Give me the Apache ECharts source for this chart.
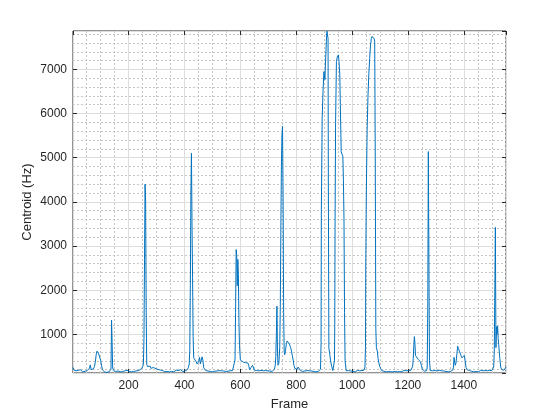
<!DOCTYPE html>
<html>
<head>
<meta charset="utf-8">
<script src="https://cdn.jsdelivr.net/npm/echarts@6/dist/echarts.min.js"></script>
<style>html,body{margin:0;padding:0;background:#fff}#c{width:560px;height:420px}</style>
</head>
<body>
<div id="c"></div>
<script>
const xTitle = 'Frame';
const yTitle = 'Centroid (Hz)';
const xRange = [1, 1551];
const yRange = [125, 7870];
const xMajorStep = 200, xMinorStep = 50;
const yMajorStep = 1000, yMinorStep = 200;
// [frame, centroid Hz]
const centroidPoints = [
[1,250],[4,195],[8,160],[12,175],[16,150],[20,185],[24,160],[28,200],[32,170],[36,150],[40,190],[44,165],[48,205],[52,180],[56,200],[60,235],[63,310],[66,200],[70,170],[74,220],[78,270],[81,380],[84,540],[87,620],[89,580],[91,630],[93,560],[95,600],[97,520],[100,410],[103,300],[106,200],[110,170],[114,150],[118,128],[122,140],[126,165],[130,150],[134,145],[137,210],[139,1320],[141,820],[143,240],[146,180],[150,210],[154,160],[158,195],[162,170],[166,200],[170,150],[174,180],[178,160],[182,200],[186,170],[190,150],[194,190],[198,170],[202,160],[206,185],[210,150],[214,175],[218,160],[222,190],[226,170],[230,150],[234,180],[238,165],[242,200],[246,215],[250,260],[253,320],[255,900],[257,2700],[259,4400],[261,4000],[263,1500],[265,320],[268,270],[271,300],[274,240],[277,280],[280,230],[283,260],[286,210],[289,250],[292,205],[295,270],[298,220],[302,185],[306,205],[310,170],[314,190],[318,160],[322,180],[326,170],[330,150],[334,180],[338,160],[342,170],[346,150],[350,190],[354,160],[358,180],[362,150],[366,170],[370,190],[374,160],[378,180],[382,150],[386,200],[390,170],[394,160],[398,180],[402,170],[406,190],[410,200],[414,250],[417,330],[419,650],[421,2100],[423,4200],[425,5100],[427,3500],[429,2280],[431,950],[433,470],[436,430],[439,460],[442,380],[445,330],[448,290],[451,380],[454,480],[457,330],[460,300],[463,490],[466,420],[469,240],[472,200],[476,180],[480,200],[484,170],[488,190],[492,160],[496,175],[500,150],[504,180],[508,165],[512,190],[516,170],[520,150],[524,180],[528,160],[532,175],[536,150],[540,170],[544,185],[548,160],[552,180],[556,165],[560,150],[564,175],[568,160],[572,180],[576,175],[579,220],[581,420],[583,1500],[585,2920],[587,2800],[589,2100],[591,2700],[593,2350],[595,1290],[597,750],[600,420],[603,380],[607,395],[611,370],[615,385],[619,360],[623,390],[627,350],[630,300],[633,200],[636,185],[640,240],[644,300],[647,280],[650,190],[654,165],[658,180],[662,150],[666,175],[670,160],[674,185],[678,155],[682,175],[686,150],[690,180],[694,160],[698,175],[702,150],[706,170],[710,185],[714,160],[718,180],[722,210],[725,300],[727,500],[729,1000],[731,1640],[733,600],[735,300],[738,350],[741,700],[743,1600],[745,3300],[747,4800],[749,5500],[751,5710],[753,4200],[755,1500],[757,600],[759,540],[762,650],[765,800],[768,850],[771,820],[774,840],[777,760],[780,700],[783,620],[786,520],[789,420],[792,300],[795,230],[799,250],[803,210],[807,260],[811,220],[815,180],[819,200],[823,160],[827,185],[831,170],[835,150],[839,180],[843,160],[847,175],[851,150],[855,170],[859,185],[863,160],[867,175],[871,150],[875,170],[879,160],[883,180],[887,210],[889,800],[890,3800],[893,5900],[896,6500],[899,6950],[901,6850],[903,6770],[905,7200],[908,7634],[910,7867],[912,7867],[914,7700],[915,4500],[917,690],[920,560],[923,400],[927,280],[931,180],[935,160],[937,400],[938,1200],[939,3400],[941,5800],[944,7180],[947,7280],[951,7330],[953,7200],[956,6880],[958,6200],[961,5140],[964,5080],[967,5030],[969,4500],[971,3630],[973,1500],[975,400],[979,175],[983,160],[987,180],[991,150],[995,170],[999,185],[1003,160],[1007,175],[1011,150],[1015,170],[1019,185],[1023,160],[1027,175],[1031,150],[1035,180],[1039,165],[1043,190],[1046,260],[1048,700],[1049,2500],[1051,4200],[1054,5670],[1057,6400],[1060,6900],[1063,7250],[1066,7550],[1069,7700],[1071,7747],[1074,7760],[1077,7740],[1079,7700],[1081,7634],[1083,5000],[1085,1140],[1087,700],[1089,720],[1091,600],[1093,450],[1096,350],[1099,280],[1102,230],[1106,180],[1110,200],[1114,165],[1118,185],[1122,150],[1126,175],[1130,160],[1134,190],[1138,155],[1142,175],[1146,150],[1150,180],[1154,160],[1158,175],[1162,150],[1166,185],[1170,160],[1174,175],[1178,150],[1182,170],[1186,185],[1190,160],[1194,175],[1198,150],[1202,180],[1206,160],[1210,185],[1214,200],[1217,280],[1219,450],[1221,750],[1223,950],[1225,800],[1227,520],[1230,560],[1233,500],[1237,430],[1241,400],[1245,380],[1248,300],[1251,220],[1255,180],[1259,165],[1263,185],[1267,180],[1269,260],[1271,1600],[1273,5140],[1275,2800],[1277,400],[1280,180],[1284,160],[1288,175],[1292,150],[1296,180],[1300,160],[1304,175],[1308,150],[1312,185],[1316,160],[1320,175],[1324,150],[1328,170],[1332,185],[1336,160],[1340,175],[1344,150],[1348,180],[1352,160],[1356,175],[1360,190],[1363,260],[1365,480],[1367,494],[1369,300],[1372,350],[1375,550],[1378,730],[1381,680],[1384,620],[1387,580],[1390,520],[1393,470],[1396,500],[1399,450],[1402,520],[1405,400],[1408,250],[1412,200],[1416,220],[1420,180],[1424,200],[1428,165],[1432,185],[1436,150],[1440,175],[1444,160],[1448,180],[1452,150],[1456,170],[1460,185],[1464,160],[1468,175],[1472,150],[1476,180],[1480,160],[1484,175],[1488,150],[1492,185],[1496,165],[1500,180],[1504,200],[1507,260],[1509,600],[1511,2000],[1513,3424],[1515,700],[1517,1173],[1519,1000],[1521,1190],[1523,900],[1525,765],[1527,600],[1529,450],[1532,260],[1536,200],[1540,215],[1544,190],[1548,230],[1551,260]
];

const FONT = "'Liberation Sans', Arial, Helvetica, sans-serif";
const TXT = '#262626';
const hidden = {show:false};

function axisBase(range, step, extra) {
  return Object.assign({
    type:'value', min:range[0], max:range[1],
    minInterval:step, maxInterval:step, splitNumber: Math.round((range[1]-range[0])/step),
    axisLine:{show:false}, axisTick:hidden, axisLabel:hidden, splitLine:hidden
  }, extra);
}
const plain = v => String(Math.round(v));

const chart = echarts.init(document.getElementById('c'), null, {renderer:'canvas'});
chart.setOption({
  animation:false,
  backgroundColor:'#ffffff',
  grid:{left:73, right:54, top:31, bottom:47, show:true, borderColor:TXT, borderWidth:1, backgroundColor:'transparent'},
  xAxis:[
    axisBase(xRange, xMinorStep, {splitLine:{show:true, lineStyle:{color:'#c6c6c6', width:1, type:[2,2]}}}),
    axisBase(xRange, xMajorStep, {
      position:'bottom',
      name:xTitle, nameLocation:'middle', nameGap:25, nameMoveOverlap:false,
      nameTextStyle:{fontFamily:FONT, fontSize:13, color:TXT},
      axisTick:{show:true, inside:true, length:4, lineStyle:{color:TXT}},
      axisLabel:{show:true, margin:7, fontFamily:FONT, fontSize:12, color:TXT, showMinLabel:false, showMaxLabel:false, formatter:plain},
      splitLine:{show:true, lineStyle:{color:'#dedede', width:1}}
    }),
    axisBase(xRange, xMajorStep, {position:'top', axisTick:{show:true, inside:true, length:4, lineStyle:{color:TXT}}})
  ],
  yAxis:[
    axisBase(yRange, yMinorStep, {splitLine:{show:true, lineStyle:{color:'#c6c6c6', width:1, type:[2,2]}}}),
    axisBase(yRange, yMajorStep, {
      position:'left',
      name:yTitle, nameLocation:'middle', nameGap:39, nameMoveOverlap:false,
      nameTextStyle:{fontFamily:FONT, fontSize:13, color:TXT},
      axisTick:{show:true, inside:true, length:4, lineStyle:{color:TXT}},
      axisLabel:{show:true, margin:6, fontFamily:FONT, fontSize:12, color:TXT, showMinLabel:false, showMaxLabel:false, formatter:plain},
      splitLine:{show:true, lineStyle:{color:'#dedede', width:1}}
    }),
    axisBase(yRange, yMajorStep, {position:'right', axisTick:{show:true, inside:true, length:4, lineStyle:{color:TXT}}})
  ],
  series:[{
    type:'line', xAxisIndex:1, yAxisIndex:1,
    data:centroidPoints, showSymbol:false, symbol:'none',
    lineStyle:{color:'#0072BD', width:1}, z:5, clip:true
  }]
});
</script>
</body>
</html>
